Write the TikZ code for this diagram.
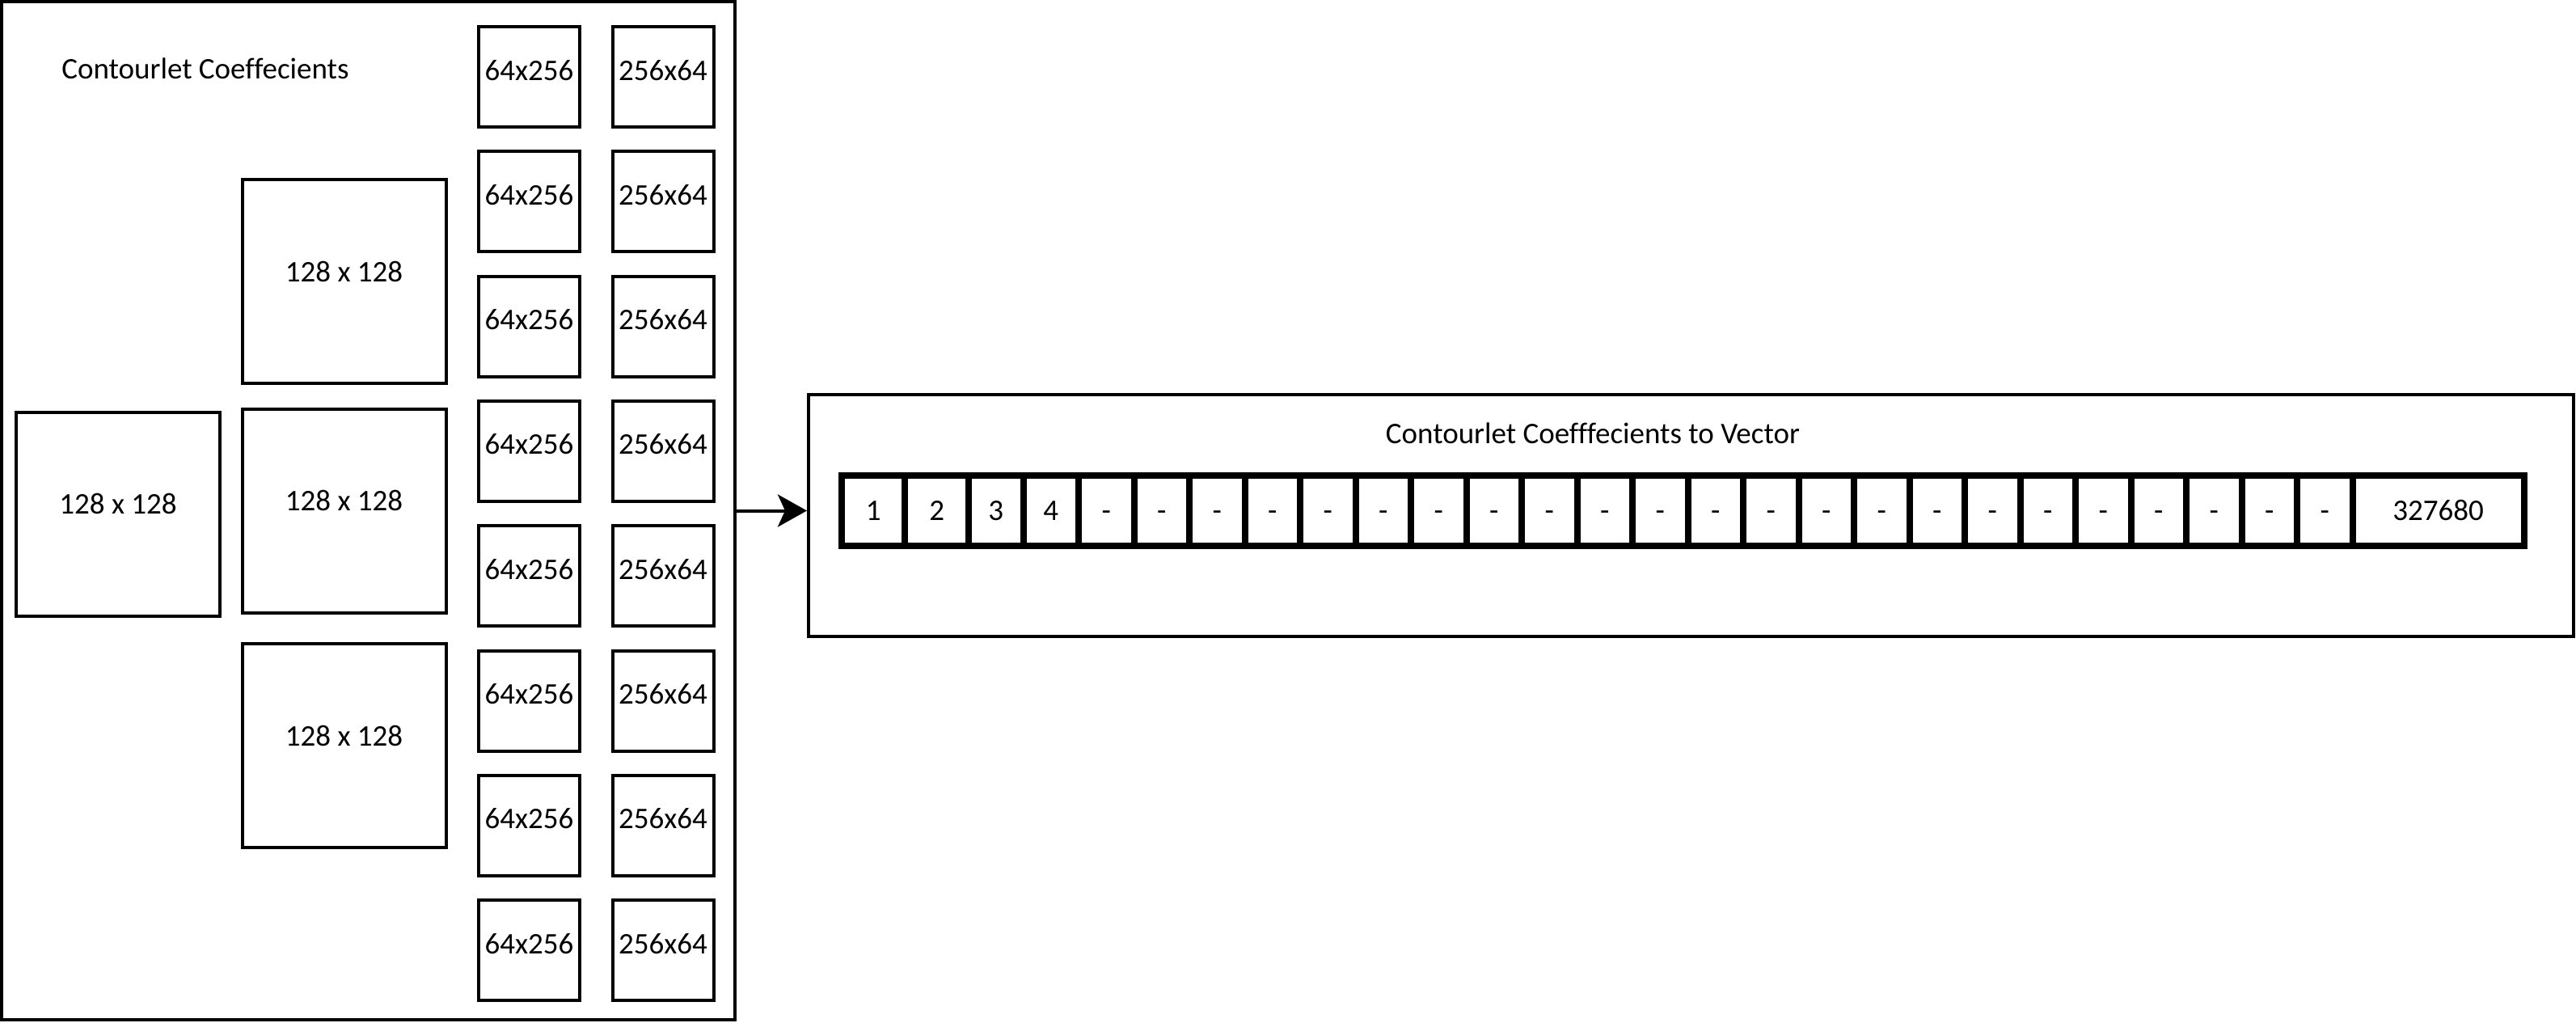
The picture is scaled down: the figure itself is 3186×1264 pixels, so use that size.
\documentclass[tikz,border=0pt]{standalone}
\usepackage{fontspec}
\setmainfont[Ligatures=NoCommon]{Carlito}
\usetikzlibrary{arrows.meta}
\newcommand{\dfont}{\fontsize{37}{44}\selectfont}
\begin{document}
\begin{tikzpicture}[x=1pt,y=-1pt,
  box/.style={draw=black, line width=4pt, inner sep=0pt, font=\dfont},
  smallbox/.style={box, minimum width=125pt, minimum height=124pt, text height=30pt, text depth=22pt},
  bigbox/.style={box, minimum width=252pt, minimum height=252pt, text height=26pt, text depth=26pt},
  frame/.style={draw=black, line width=4pt, inner sep=0pt},
  cell/.style={draw=black, line width=8pt, inner sep=0pt, minimum height=87pt, font=\dfont, text height=30pt, text depth=7pt},
  title/.style={anchor=base, font=\dfont},
  conn/.style={draw=black, line width=4pt, -{Stealth[length=36pt,width=40pt,inset=9pt]}}]
\useasboundingbox (0,0) rectangle (3186,1264);
% left frame
\node[frame, minimum width=907pt, minimum height=1259pt] (coef) at (455.5,631.5) {};
\node[title] (coeftitle) at (254,97) {Contourlet Coeffecients};
% small boxes
\foreach \k in {1,...,8}{
  \node[smallbox] (a\k) at (654.5,{95+154.3*(\k-1)}) {64x256};
  \node[smallbox] (b\k) at (820,{95+154.3*(\k-1)}) {256x64};
}
% big boxes
\node[bigbox] (m1) at (425.5,348) {128 x 128};
\node[bigbox] (m2) at (425.5,631.5) {128 x 128};
\node[bigbox] (m3) at (425.5,922) {128 x 128};
\node[bigbox] (l1) at (146,635.5) {128 x 128};
% right frame
\node[frame, minimum width=2183pt, minimum height=299.5pt] (vec) at (2091.5,637.25) {};
\node[title] (vectitle) at (1970,548) {Contourlet Coefffecients to Vector};
% vector cells
\node[cell, minimum width=78.4pt] (c1) at (1080.2,631.5) {1};
\node[cell, minimum width=78.6pt] (c2) at (1158.7,631.5) {2};
\node[cell, minimum width=67.5pt] (c3) at (1231.75,631.5) {3};
\node[cell, minimum width=68.5pt] (c4) at (1299.75,631.5) {4};
\foreach \k in {1,...,23}{
  \node[cell, minimum width=68.5pt] (d\k) at ({1299.75+68.5*\k},631.5) {-};
}
\node[cell, minimum width=212pt] (clast) at (3015.5,631.5) {327680};
% connector
\draw[conn] (coef.east) -- (coef.east -| vec.west);
\end{tikzpicture}
\end{document}
